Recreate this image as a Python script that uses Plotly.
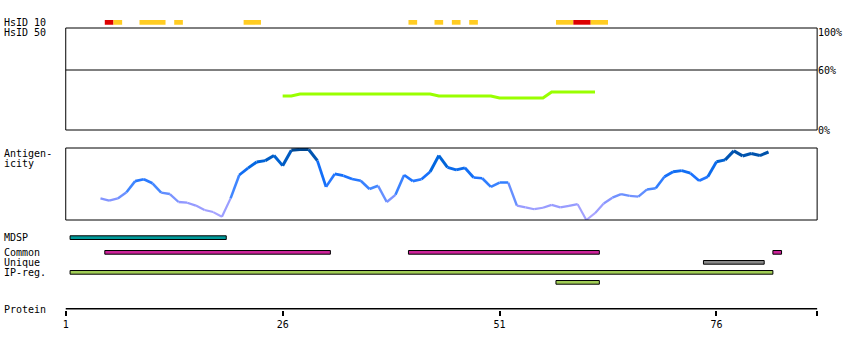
import plotly.graph_objects as go
from plotly.colors import sample_colorscale

W, H = 850, 350
X_RANGE = [1, 87.6]

# ---------------- data ----------------
# HsID 10 hits (residue ranges) and their level
hsid10_start = [6, 7, 10, 14, 22, 41, 44, 46, 48, 58, 60, 62]
hsid10_end = [6, 7, 12, 14, 23, 41, 44, 46, 48, 59, 61, 63]
hsid10_level = ["high", "low", "low", "low", "low", "low", "low", "low", "low", "low", "high", "low"]

# HsID 50 identity line (%)
hsid50_res = list(range(26, 63))
hsid50_pct = [34, 34] + [36] * 16 + [34] * 7 + [32] * 6 + [38] * 6

# Antigenicity (normalised score) residues 5..82
antigen_res = list(range(5, 83))
antigen_val = [
    0.30, 0.27, 0.30, 0.385, 0.54, 0.565, 0.51, 0.38, 0.36, 0.25,
    0.24, 0.20, 0.14, 0.11, 0.045, 0.30, 0.625, 0.72, 0.805, 0.825,
    0.895, 0.755, 0.97, 0.98, 0.98, 0.825, 0.46, 0.64, 0.615, 0.57,
    0.545, 0.43, 0.475, 0.25, 0.35, 0.625, 0.54, 0.565, 0.67, 0.895,
    0.73, 0.695, 0.725, 0.59, 0.58, 0.46, 0.52, 0.52, 0.20, 0.175,
    0.15, 0.17, 0.21, 0.175, 0.195, 0.22, 0.0, 0.095, 0.23, 0.31,
    0.36, 0.335, 0.325, 0.425, 0.44, 0.60, 0.67, 0.685, 0.65, 0.545,
    0.60, 0.81, 0.835, 0.96, 0.89, 0.925, 0.895, 0.945,
]

# Feature tracks: (start, end) residues
mdsp_regions = [(2, 19)]
common_regions = [(6, 31), (41, 62), (83, 83)]
unique_regions = [(75, 81)]
ipreg_regions = [(2, 82)]
ipreg2_regions = [(58, 62)]

tick_vals = [1, 26, 51, 76]
tick_text = ["1", "26", "51", "76"]

# ---------------- styles ----------------
FONT = "DejaVu Sans Mono"
FS = 10
colors_hsid = {"high": "#dd0000", "low": "#ffcc22"}
antigen_scale = [
    [0.0, "#b0a8ff"], [0.25, "#9098ff"], [0.45, "#4488ff"],
    [0.6, "#1a72ff"], [0.8, "#0066dd"], [1.0, "#004488"],
]


def py(p):
    return 1 - p / H


def px(p):
    # horizontal pixel -> paper fraction (calibrated to the rendered page)
    return (p - 2.2) / 847.7


fig = go.Figure()

AXIS_PX = 309.5

# HsID 50 panel: green line
fig.add_trace(go.Scatter(
    x=hsid50_res, y=hsid50_pct, mode="lines",
    line=dict(color="#99ff00", width=3), xaxis="x", yaxis="y",
    hoverinfo="skip", showlegend=False,
))

# Antigenicity: segments coloured by value
for i in range(len(antigen_res) - 1):
    v = (antigen_val[i] + antigen_val[i + 1]) / 2
    c = sample_colorscale(antigen_scale, [v])[0]
    fig.add_trace(go.Scatter(
        x=[antigen_res[i], antigen_res[i + 1]],
        y=[antigen_val[i], antigen_val[i + 1]],
        mode="lines", line=dict(color=c, width=2 + 1.2 * v),
        xaxis="x", yaxis="y2", hoverinfo="skip", showlegend=False,
    ))

shapes = []
# panel boxes
for yr in ["y domain", "y2 domain"]:
    shapes.append(dict(type="rect", xref="x domain", yref=yr, x0=0, x1=1, y0=0, y1=1,
                       line=dict(color="black", width=1), fillcolor="rgba(0,0,0,0)", layer="above"))
# 60% line
shapes.append(dict(type="line", xref="x domain", yref="y", x0=0, x1=1, y0=60, y1=60,
                   line=dict(color="black", width=1)))
# protein axis line
shapes.append(dict(type="line", xref="x domain", yref="y3", x0=0, x1=1, y0=AXIS_PX, y1=AXIS_PX,
                   line=dict(color="black", width=3)))

# HsID 10 bars
for s, e, lv in zip(hsid10_start, hsid10_end, hsid10_level):
    shapes.append(dict(type="rect", xref="x", yref="y3", x0=s - 0.5, x1=e + 0.5, y0=20, y1=24.7,
                       line=dict(width=0), fillcolor=colors_hsid[lv]))

# Feature tracks
tracks = [
    (mdsp_regions, 235.3, "#009a9a"),
    (common_regions, 250, "#cc2299"),
    (unique_regions, 260, "#888888"),
    (ipreg_regions, 270, "#a0cc55"),
    (ipreg2_regions, 280, "#a0cc55"),
]
for regions, top, col in tracks:
    for s, e in regions:
        shapes.append(dict(type="rect", xref="x", yref="y3", x0=s - 0.5, x1=e + 0.5,
                           y0=top + 0.5, y1=top + 4.2,
                           line=dict(color="black", width=1), fillcolor=col))

annotations = []
left_labels = [("HsID 10", 22.3), ("HsID 50", 32.7), ("Antigen-", 154), ("icity", 163.3),
               ("MDSP", 237.7), ("Common", 252.3), ("Unique", 262.3), ("IP-reg.", 272.3),
               ("Protein", 309)]
for t, yp in left_labels:
    annotations.append(dict(text=t, xref="paper", yref="paper", x=px(1), y=py(yp),
                            xanchor="left", yanchor="middle", showarrow=False,
                            font=dict(family=FONT, size=FS, color="black")))
right_labels = [("100%", 32.7), ("60%", 70.7), ("0%", 130.7)]
for t, yp in right_labels:
    annotations.append(dict(text=t, xref="paper", yref="paper", x=px(816), y=py(yp),
                            xanchor="left", yanchor="middle", showarrow=False,
                            font=dict(family=FONT, size=FS, color="black")))

fig.update_layout(
    width=W, height=H, margin=dict(l=0, r=0, t=0, b=0),
    paper_bgcolor="white", plot_bgcolor="rgba(0,0,0,0)",
    shapes=shapes, annotations=annotations,
    xaxis=dict(domain=[px(65), px(817)], range=X_RANGE, anchor="y3",
               showgrid=False, zeroline=False, showline=False,
               ticks="outside", ticklen=5, tickwidth=2, tickcolor="black",
               tickvals=tick_vals + [X_RANGE[1]], ticktext=tick_text + [""],
               tickfont=dict(family=FONT, size=FS, color="black")),
    yaxis=dict(domain=[py(130), py(28)], range=[0, 102], anchor="x",
               showgrid=False, zeroline=False, showticklabels=False, ticks=""),
    yaxis2=dict(domain=[py(220), py(148)], range=[0, 1], anchor="x",
                showgrid=False, zeroline=False, showticklabels=False, ticks=""),
    yaxis3=dict(domain=[py(AXIS_PX), 1], range=[AXIS_PX, 0], anchor="x",
                showgrid=False, zeroline=False, showticklabels=False, ticks="", showline=False),
)

fig.write_html("out.html")
